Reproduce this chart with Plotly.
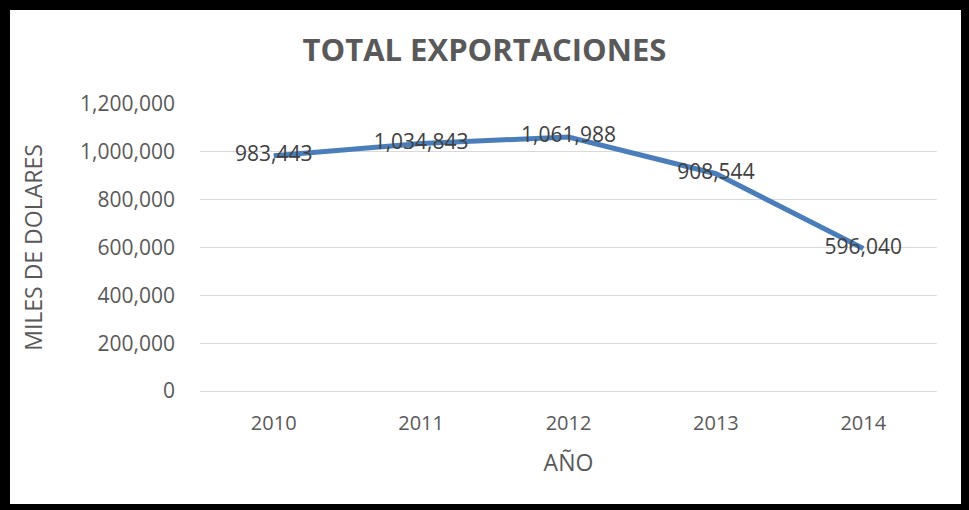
import plotly.graph_objects as go

years = ["2010", "2011", "2012", "2013", "2014"]
exports = [983443, 1034843, 1061988, 908544, 596040]
labels = ["983,443", "1,034,843", "1,061,988", "908,544", "596,040"]
y_ticks = [0, 200000, 400000, 600000, 800000, 1000000, 1200000]
y_tick_text = ["0", "200,000", "400,000", "600,000", "800,000", "1,000,000", "1,200,000"]

W, H = 969, 510
L, R, T, B = 200, 32, 104, 119
pw, ph = W - L - R, H - T - B

fig = go.Figure()
fig.add_trace(go.Scatter(
    x=years, y=exports, mode="lines+text",
    text=labels, textposition="middle center",
    textfont=dict(family="Open Sans", size=21, color="#404040"),
    line=dict(color="#4A7EBB", width=5),
    cliponaxis=False, showlegend=False,
))

def px_x(p):
    return (p - L) / pw

def px_y(p):
    return 1 - (p - T) / ph

fig.add_shape(type="rect", xref="paper", yref="paper",
              x0=px_x(5), x1=px_x(966), y0=px_y(509), y1=px_y(5),
              line=dict(color="black", width=10), fillcolor="rgba(0,0,0,0)")

fig.update_layout(
    width=W, height=H,
    margin=dict(l=L, r=R, t=T, b=B),
    paper_bgcolor="white", plot_bgcolor="white",
    title=dict(text="<b>TOTAL EXPORTACIONES</b>", x=0.5, xanchor="center",
               y=1 - 50 / H, yanchor="middle",
               font=dict(family="Open Sans", size=31, color="#595959")),
    font=dict(family="Open Sans", color="#595959"),
)
fig.update_xaxes(
    type="category", range=[-0.5, 4.5],
    showgrid=False, showline=False, zeroline=False,
    tickfont=dict(size=20, color="#595959"), ticks="", ticklabelstandoff=18,
    title=dict(text="AÑO", font=dict(size=23, color="#595959"), standoff=19),
)
fig.update_yaxes(
    range=[0, 1200000], tickvals=y_ticks, ticktext=y_tick_text,
    showgrid=True, gridcolor="#D9D9D9", gridwidth=1.3,
    zeroline=True, zerolinecolor="#D9D9D9", zerolinewidth=1.3,
    showline=False, ticks="", ticklabelstandoff=24,
    tickfont=dict(size=21, color="#595959"),
    title=dict(text="MILES DE DOLARES", font=dict(size=23, color="#595959"), standoff=31),
)

fig.write_html("out.html", config={"displayModeBar": False},
               post_script="document.body.style.margin='0';document.body.style.overflow='hidden';")
